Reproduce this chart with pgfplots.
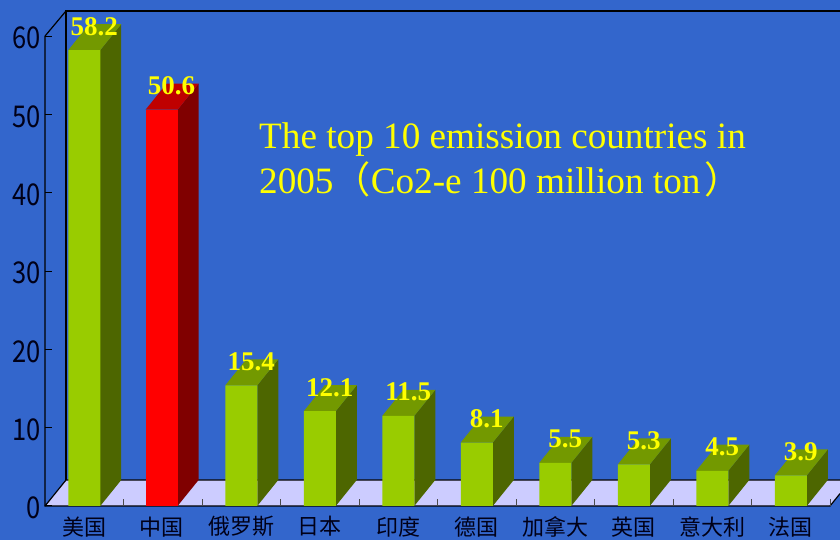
\documentclass[border=0pt]{standalone}
\usepackage{pgfplots}
\pgfplotsset{compat=1.18}
\usepackage{fontspec}
\setmainfont{Liberation Serif}
\newfontfamily\cjk{Noto Sans CJK SC}
\definecolor{bg}{HTML}{3366CC}
\definecolor{floorc}{HTML}{CCCCFF}
\definecolor{gfront}{HTML}{99CC00}
\definecolor{gside}{HTML}{4D6600}
\definecolor{gtop}{HTML}{739900}
\definecolor{rfront}{HTML}{FF0000}
\definecolor{rside}{HTML}{800000}
\definecolor{rtop}{HTML}{BF0000}
\definecolor{ink}{HTML}{000018}
\definecolor{txt}{HTML}{FFFF00}
% side and top face of one bar: position, value, side colour, top colour
\newcommand\barfaces[4]{%
  \pgfmathsetmacro\xl{#1-0.2038}%
  \pgfmathsetmacro\xr{#1+0.2038}%
  \pgfmathsetmacro\xlb{\xl+0.2675}%
  \pgfmathsetmacro\xrb{\xr+0.2675}%
  \pgfmathsetmacro\yt{#2+3.32}%
  \edef\temp{\noexpand\addplot[draw=none,fill=#3] coordinates {(\xr,0) (\xrb,3.32) (\xrb,\yt) (\xr,#2)} --cycle;
    \noexpand\addplot[draw=none,fill=#4] coordinates {(\xl,#2) (\xlb,\yt) (\xrb,\yt) (\xr,#2)} --cycle;}%
  \temp
}
\pgfplotsset{frontbar/.style={
  ybar, bar width=32pt, bar shift=0pt, draw=none,
  nodes near coords={\pgfmathprintnumber[fixed,fixed zerofill,precision=1,assume math mode=true]{\pgfplotspointmeta}},
  every node near coord/.append style={font=\bfseries\fontsize{27}{27}\selectfont,text=txt,anchor=base,xshift=10pt,yshift=15pt,inner sep=0pt},
}}
\begin{document}
\begin{tikzpicture}[x=1pt,y=1pt]
\useasboundingbox (0,0) rectangle (840,540);
\fill[bg] (0,0) rectangle (840,540);
\begin{axis}[
  at={(45pt,34pt)}, anchor=south west,
  scale only axis, width=795pt, height=495pt,
  xmin=-0.5, xmax=9.6274, ymin=0, ymax=63.2,
  clip=false, axis on top,
  axis x line*=bottom, axis y line*=left,
  x axis line style={draw=none,-}, y axis line style={draw=none,-},
  xtick={0.5,1.5,2.5,3.5,4.5,5.5,6.5,7.5,8.5,9.5},
  xticklabels={},
  extra x ticks={0,0.985,2,3,4,5,6,7,8,9},
  extra x tick labels={美国,中国,俄罗斯,日本,印度,德国,加拿大,英国,意大利,法国},
  extra x tick style={major tick length=0pt},
  x tick style={draw=black!70,line width=1pt},
  xticklabel style={font=\cjk\fontsize{22}{22}\selectfont,text=ink,yshift=-7pt},
  ytick={0,10,20,30,40,50,60},
  y tick style={black,line width=1pt},
  tick align=inside, major tick length=7pt,
  yticklabel style={font=\cjk\fontsize{30}{30}\selectfont,text=ink,xscale=0.85,yshift=-2pt,xshift=-1pt},
  /pgf/number format/assume math mode=true,
]
% floor and walls
\addplot[draw=none,fill=floorc] coordinates {(-0.5,0) (-0.2325,3.32) (9.6274,3.32) (9.6274,1.58) (9.5,0)} --cycle;
\addplot[black,line width=1.2pt] coordinates {(-0.5,60) (-0.5,0) (9.5,0) (9.6274,1.58)};
\addplot[black,line width=1.2pt] coordinates {(-0.5,0) (-0.2325,3.32) (9.6274,3.32)};
\addplot[black,line width=1.2pt] coordinates {(-0.2325,3.32) (-0.2325,63.2) (9.6274,63.2)};
\addplot[black,line width=1.2pt] coordinates {(-0.5,60) (-0.2325,63.2)};
% bar sides and tops
\barfaces{0}{58.2}{gside}{gtop}
\barfaces{0.985}{50.6}{rside}{rtop}
\barfaces{2}{15.4}{gside}{gtop}
\barfaces{3}{12.1}{gside}{gtop}
\barfaces{4}{11.5}{gside}{gtop}
\barfaces{5}{8.1}{gside}{gtop}
\barfaces{6}{5.5}{gside}{gtop}
\barfaces{7}{5.3}{gside}{gtop}
\barfaces{8}{4.5}{gside}{gtop}
\barfaces{9}{3.9}{gside}{gtop}
% bar fronts with value labels
\addplot[frontbar,fill=gfront] coordinates {(0,58.2) (2,15.4) (3,12.1) (4,11.5) (5,8.1) (6,5.5) (7,5.3) (8,4.5) (9,3.9)};
\addplot[frontbar,fill=rfront] coordinates {(0.985,50.6)};
\node[anchor=base west,inner sep=0pt,text=txt,font=\fontsize{37.2}{37}\selectfont] at (axis cs:2.226,45.7) {The top 10 emission countries in};
\node[anchor=base west,inner sep=0pt,text=txt,font=\fontsize{37.2}{37}\selectfont] at (axis cs:2.226,39.9) {2005{\cjk （}Co2-e 100 million ton\kern4pt{\cjk ）}};
\end{axis}
\end{tikzpicture}
\end{document}
